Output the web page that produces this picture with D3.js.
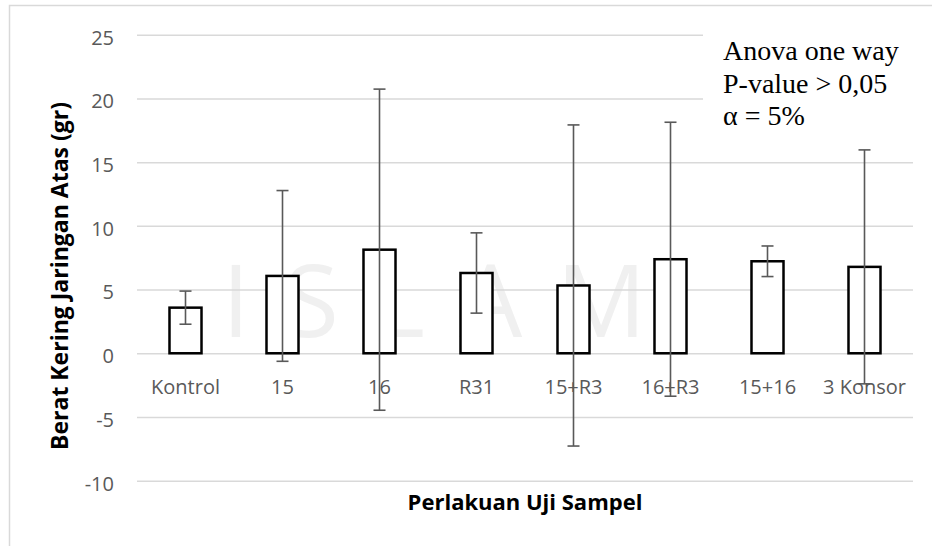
<!DOCTYPE html>
<html>
<head>
<meta charset="utf-8">
<script src="https://cdn.jsdelivr.net/npm/d3@7"></script>
<style>
  html, body { margin: 0; padding: 0; background: #fff; }
  svg { display: block; }
</style>
</head>
<body>
<svg id="chart" width="932" height="546"></svg>
<script>
// Dry weight of upper tissue per treatment: mean and error (±)
const categories = ["Kontrol", "15", "16", "R31", "15+R3", "16+R3", "15+16", "3 Konsor"];
const means = [3.58, 6.07, 8.13, 6.30, 5.32, 7.38, 7.22, 6.78];
const errors = [1.30, 6.70, 12.60, 3.15, 12.60, 10.75, 1.20, 9.18];
const yTicks = [-10, -5, 0, 5, 10, 15, 20, 25];
const notes = ["Anova one way", "P-value > 0,05", "α = 5%"];
const yTitle = "Berat Kering Jaringan Atas (gr)";
const xTitle = "Perlakuan Uji Sampel";

const rows = categories.map((c, i) => ({ cat: c, mean: means[i], err: errors[i] }));

const svg = d3.select("#chart");
const W = 932, H = 546;
const plot = { left: 137, right: 913, top: 34.7, bottom: 480.7 };

const x = d3.scaleBand().domain(categories).range([plot.left, plot.right]);
const y = d3.scaleLinear().domain([-10, 25]).range([plot.bottom, plot.top]);

// page background and chart frame
svg.append("rect").attr("width", W).attr("height", H).attr("fill", "#fff");
svg.append("rect")
  .attr("x", 9.5).attr("y", 5.5).attr("width", W + 20).attr("height", H + 20)
  .attr("fill", "none").attr("stroke", "#d9d9d9").attr("stroke-width", 1.5);

// faint background watermark
svg.append("text")
  .attr("x", 222).attr("y", 337)
  .attr("font-family", "'Open Sans', sans-serif")
  .attr("font-size", 100)
  .attr("letter-spacing", 34)
  .attr("fill", "#f0f0f0")
  .text("ISLAM");

// horizontal gridlines + y tick labels (plain hyphen for negatives)
const yAxis = d3.axisLeft(y)
  .tickValues(yTicks)
  .tickSize(-(plot.right - plot.left))
  .tickPadding(23)
  .tickFormat(d => String(d));

const gy = svg.append("g")
  .attr("transform", `translate(${plot.left},0)`)
  .call(yAxis);
gy.select(".domain").remove();
gy.selectAll(".tick line").attr("stroke", "#d9d9d9").attr("stroke-width", 1.5);
gy.selectAll(".tick text")
  .attr("fill", "#595959")
  .attr("font-family", "'Open Sans', sans-serif")
  .attr("font-size", 20)
  .attr("dy", "0.47em");

// bars
const barW = x.bandwidth() * 0.33;
svg.append("g").selectAll("rect")
  .data(rows).join("rect")
  .attr("x", d => x(d.cat) + (x.bandwidth() - barW) / 2)
  .attr("y", d => y(d.mean))
  .attr("width", barW)
  .attr("height", d => y(0) - y(d.mean))
  .attr("fill", "#fff")
  .attr("stroke", "#000")
  .attr("stroke-width", 2.5);

// category labels along the zero line
const xAxis = d3.axisBottom(x).tickSize(0).tickPadding(26.5);
const gx = svg.append("g")
  .attr("transform", `translate(0,${y(0)})`)
  .call(xAxis);
gx.select(".domain").remove();
gx.selectAll(".tick text")
  .attr("fill", "#595959")
  .attr("font-family", "'Open Sans', sans-serif")
  .attr("font-size", 20);

// error bars
const cap = 6;
const eb = svg.append("g")
  .attr("stroke", "#595959")
  .attr("stroke-width", 1.6)
  .selectAll("g").data(rows).join("g")
  .attr("transform", d => `translate(${x(d.cat) + x.bandwidth() / 2},0)`);
eb.append("line")
  .attr("y1", d => y(d.mean + d.err))
  .attr("y2", d => y(d.mean - d.err));
eb.append("line")
  .attr("x1", -cap).attr("x2", cap)
  .attr("y1", d => y(d.mean + d.err)).attr("y2", d => y(d.mean + d.err));
eb.append("line")
  .attr("x1", -cap).attr("x2", cap)
  .attr("y1", d => y(d.mean - d.err)).attr("y2", d => y(d.mean - d.err));

// axis titles
svg.append("text")
  .attr("transform", `translate(68,276) rotate(-90)`)
  .attr("text-anchor", "middle")
  .attr("font-family", "'Open Sans', sans-serif")
  .attr("font-weight", "bold")
  .attr("font-size", 23)
  .attr("fill", "#000")
  .text(yTitle);

svg.append("text")
  .attr("x", (plot.left + plot.right) / 2)
  .attr("y", 510)
  .attr("text-anchor", "middle")
  .attr("font-family", "'Open Sans', sans-serif")
  .attr("font-weight", "bold")
  .attr("font-size", 22)
  .attr("fill", "#000")
  .text(xTitle);

// statistics note box
const note = svg.append("g");
note.append("rect")
  .attr("x", 703).attr("y", 22).attr("width", 222).attr("height", 116)
  .attr("fill", "#fff");
note.append("text")
  .attr("font-family", "'Liberation Serif', 'Times New Roman', serif")
  .attr("font-size", 28)
  .attr("fill", "#000")
  .selectAll("tspan").data(notes).join("tspan")
  .attr("x", 723)
  .attr("y", (d, i) => 60 + i * 32.5)
  .text(d => d);
</script>
</body>
</html>
